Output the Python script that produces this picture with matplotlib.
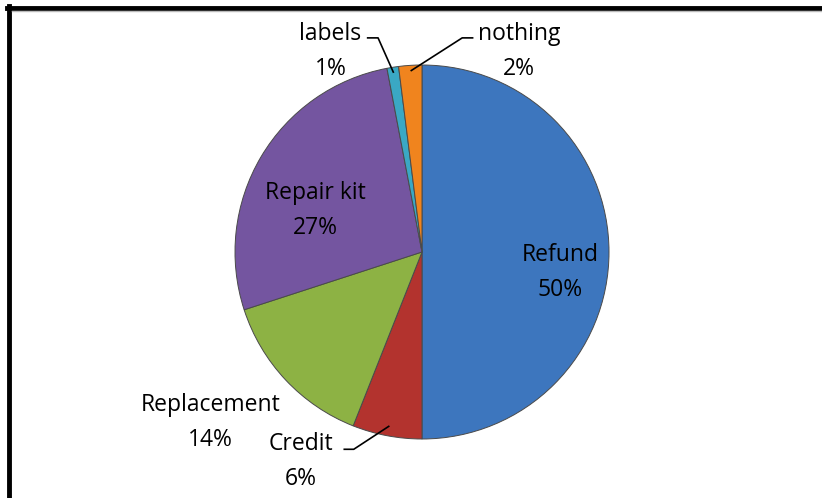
import matplotlib.pyplot as plt
import numpy as np
from matplotlib.lines import Line2D

plt.rcParams['font.family'] = ['Open Sans', 'DejaVu Sans']

# data
categories = ['Refund', 'Credit', 'Replacement', 'Repair kit', 'labels', 'nothing']
shares = [50, 6, 14, 27, 1, 2]
colors = ['#3d76be', '#b3332e', '#8db244', '#7455a0', '#3aa8c4', '#f0841e']

W, H = 822, 498
cx, cy, R = 422, 252, 187

fig = plt.figure(figsize=(W / 100, H / 100), dpi=100)
fig.patch.set_facecolor('white')
ax = fig.add_axes([(cx - R) / W, (H - cy - R) / H, 2 * R / W, 2 * R / H])

wedges, _ = ax.pie(shares, colors=colors, startangle=90, counterclock=False,
                   radius=1.0, wedgeprops=dict(edgecolor='#4a4a4a', linewidth=0.7))
ax.set_xlim(-1, 1)
ax.set_ylim(-1, 1)
ax.set_aspect('equal')
ax.axis('off')

def mid_point(w, r):
    a = np.radians((w.theta1 + w.theta2) / 2)
    return r * np.cos(a), r * np.sin(a)

fs = 16.5
text_pos = {
    'Refund': (0.74, -0.11),
    'Repair kit': (-0.57, 0.22),
    'Replacement': (-1.13, -0.91),
    'Credit': (-0.65, -1.12),
    'labels': (-0.49, 1.07),
    'nothing': (0.52, 1.07),
}
for name, val in zip(categories, shares):
    tx, ty = text_pos[name]
    ax.text(tx, ty, f'{name}\n{val}%', ha='center', va='center', fontsize=fs,
            linespacing=1.62, color='black', clip_on=False)

# leader lines: (text end x, elbow x, y of text line)
leaders = {
    'Credit': (-0.42, -0.365, -1.055),
    'labels': (-0.295, -0.235, 1.145),
    'nothing': (0.275, 0.215, 1.145),
}
for name, (x0, x1, y0) in leaders.items():
    w = wedges[categories.index(name)]
    px, py = mid_point(w, 0.97)
    if name == 'Credit':
        px, py = mid_point(w, 0.93)
        py = min(py, -0.93)
    ax.plot([x0, x1, px], [y0, y0, py], color='black', lw=1.2,
            clip_on=False, solid_capstyle='butt')

# frame lines
fig.add_artist(Line2D([9 / W, 9 / W], [0, 1 - 6 / H], color='black', lw=3.5,
                      transform=fig.transFigure))
fig.add_artist(Line2D([7 / W, 1], [1 - 8 / H, 1 - 8 / H], color='black', lw=3.5,
                      transform=fig.transFigure))
fig.add_artist(Line2D([12 / W, 1], [1 - 11 / H, 1 - 11 / H], color='#bbbbbb', lw=1,
                      transform=fig.transFigure))

plt.savefig('out.png', dpi=100)
